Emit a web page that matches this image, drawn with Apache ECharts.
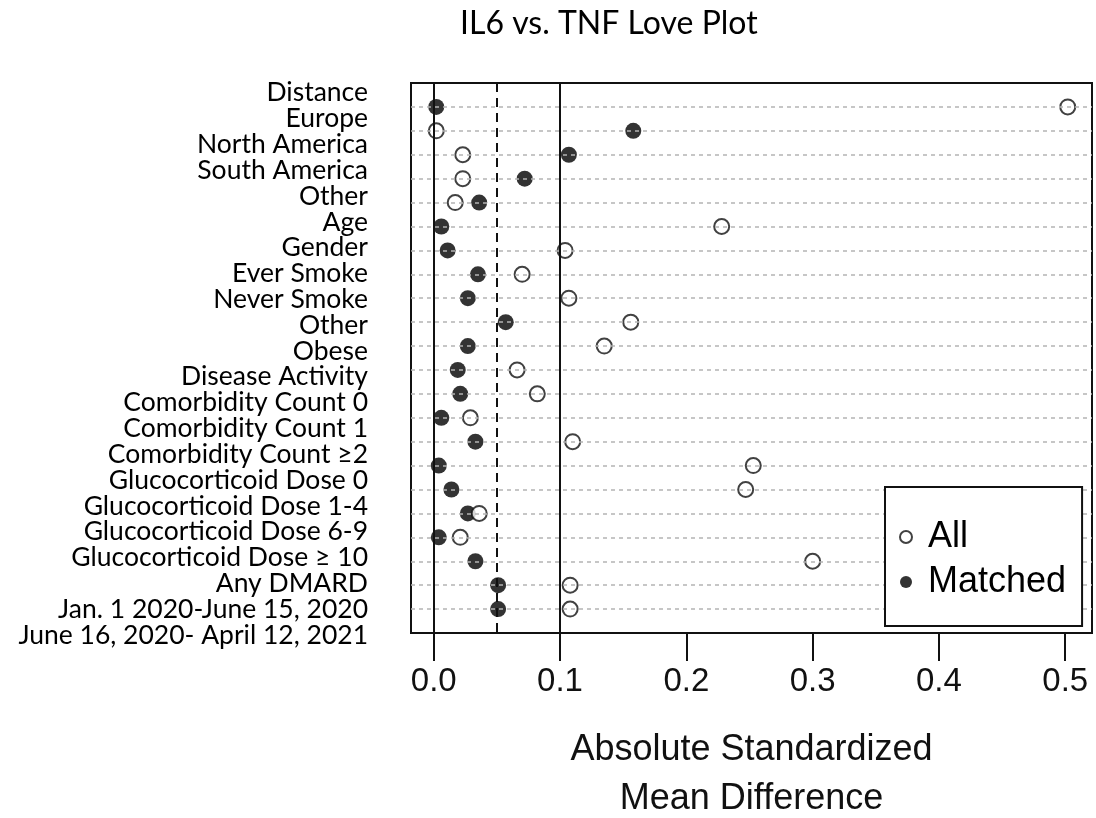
<!DOCTYPE html>
<html>
<head>
<meta charset="utf-8">
<title>IL6 vs. TNF Love Plot</title>
<script src="https://cdn.jsdelivr.net/npm/echarts@6/dist/echarts.min.js"></script>
<style>
html, body { margin: 0; padding: 0; background: #fff; }
#main { width: 1096px; height: 818px; }
</style>
</head>
<body>
<div id="main"></div>
<script>
// covariates, top to bottom
const covariates = [
  'Distance', 'Europe', 'North America', 'South America', 'Other', 'Age',
  'Gender', 'Ever Smoke', 'Never Smoke', 'Other', 'Obese', 'Disease Activity',
  'Comorbidity Count 0', 'Comorbidity Count 1', 'Comorbidity Count \u22652',
  'Glucocorticoid Dose 0', 'Glucocorticoid Dose 1-4', 'Glucocorticoid Dose 6-9',
  'Glucocorticoid Dose \u2265 10', 'Any DMARD', 'Jan. 1 2020-June 15, 2020',
  'June 16, 2020- April 12, 2021'
];
// absolute standardized mean differences, one per dot row
const allValues = [
  0.502, 0.002, 0.023, 0.023, 0.017, 0.228, 0.104, 0.070, 0.107, 0.156, 0.135,
  0.066, 0.082, 0.029, 0.110, 0.253, 0.247, 0.036, 0.021, 0.300, 0.108, 0.108
];
const matchedValues = [
  0.002, 0.158, 0.107, 0.072, 0.036, 0.006, 0.011, 0.035, 0.027, 0.057, 0.027,
  0.019, 0.021, 0.006, 0.033, 0.004, 0.014, 0.027, 0.004, 0.033, 0.051, 0.051
];
const xTicks = [0, 0.1, 0.2, 0.3, 0.4, 0.5];
const solidRefs = [0, 0.1];
const dashedRefs = [0.05];

const rows = covariates.map(function (c, i) { return i + 1; });
const yMax = rows.length + 1;

const chart = echarts.init(document.getElementById('main'));

const option = {
  animation: false,
  title: {
    text: 'IL6 vs. TNF Love Plot',
    left: 455,
    top: 3,
    textStyle: { fontFamily: 'Lato', fontSize: 32, fontWeight: 'normal', color: '#000' }
  },
  legend: {
    data: ['All', 'Matched'],
    orient: 'vertical',
    left: 885,
    top: 487,
    padding: [32, 16, 26, 14],
    itemGap: 9,
    itemWidth: 34,
    itemHeight: 12,
    borderColor: '#111',
    borderWidth: 2,
    backgroundColor: '#fff',
    z: 10,
    textStyle: { fontFamily: 'Liberation Sans', fontSize: 36, color: '#000' }
  },
  grid: [
    {
      left: 411, right: 4, top: 83, bottom: 185,
      outerBoundsMode: 'none',
      show: true, borderColor: '#111', borderWidth: 2
    },
    // invisible grid holding the covariate labels
    { left: 372, width: 10, top: 80, height: 568, outerBoundsMode: 'none' }
  ],
  xAxis: [
    {
      type: 'value',
      gridIndex: 0,
      min: -0.018,
      max: 0.5212,
      axisLine: { show: true, onZero: false, lineStyle: { color: '#111', width: 2 } },
      splitLine: { show: false },
      axisTick: {
        show: true,
        inside: false,
        length: 28,
        customValues: xTicks,
        lineStyle: { color: '#111', width: 2 }
      },
      axisLabel: {
        customValues: xTicks,
        margin: 32,
        fontFamily: 'Liberation Sans',
        fontSize: 33,
        color: '#111',
        formatter: function (v) { return v.toFixed(1); }
      },
      name: 'Absolute Standardized\nMean Difference',
      nameLocation: 'middle',
      nameGap: 93,
      nameTextStyle: { fontFamily: 'Liberation Sans', fontSize: 36, lineHeight: 49, color: '#111' }
    },
    { type: 'value', gridIndex: 1, show: false }
  ],
  yAxis: [
    {
      type: 'value',
      gridIndex: 0,
      min: 0,
      max: yMax,
      inverse: true,
      show: false
    },
    {
      type: 'category',
      gridIndex: 1,
      data: covariates,
      inverse: true,
      boundaryGap: true,
      axisLine: { show: false },
      axisTick: { show: false },
      splitLine: { show: false },
      axisLabel: {
        interval: 0,
        margin: 4,
        fontFamily: 'Lato',
        fontSize: 26.5,
        color: '#000'
      }
    }
  ],
  series: [
    {
      name: 'guides',
      type: 'line',
      xAxisIndex: 0,
      yAxisIndex: 0,
      data: [],
      silent: true,
      z: 1,
      markLine: {
        silent: true,
        symbol: 'none',
        label: { show: false },
        data: rows.map(function (r) {
          return { yAxis: r, lineStyle: { color: '#b4b4b4', width: 1.5, type: [4, 4] } };
        }).concat(solidRefs.map(function (x) {
          return { xAxis: x, lineStyle: { color: '#111', width: 2, type: 'solid' } };
        })).concat(dashedRefs.map(function (x) {
          return { xAxis: x, lineStyle: { color: '#111', width: 2, type: [9, 6] } };
        }))
      }
    },
    {
      name: 'Matched',
      type: 'scatter',
      xAxisIndex: 0,
      yAxisIndex: 0,
      symbol: 'circle',
      symbolSize: 16,
      z: 3,
      itemStyle: { color: '#000' },
      data: matchedValues.map(function (v, i) { return [v, rows[i]]; })
    },
    {
      name: 'All',
      type: 'scatter',
      xAxisIndex: 0,
      yAxisIndex: 0,
      symbol: 'circle',
      symbolSize: 15,
      z: 4,
      itemStyle: { color: '#fff', borderColor: '#111', borderWidth: 2 },
      data: allValues.map(function (v, i) { return [v, rows[i]]; })
    }
  ]
};

chart.setOption(option);
</script>
</body>
</html>
